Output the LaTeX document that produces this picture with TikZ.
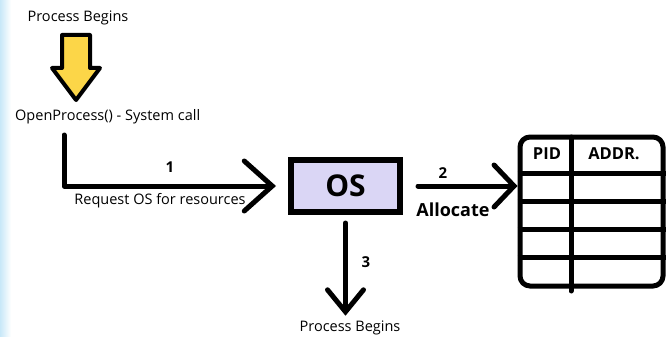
\documentclass[tikz,border=0pt]{standalone}
\usepackage{fontspec}
\setmainfont{Open Sans}
\usetikzlibrary{arrows.meta}
\definecolor{oslav}{RGB}{218,214,245}
\definecolor{pipeyellow}{RGB}{252,214,72}
\definecolor{edgeblue}{RGB}{200,232,248}
\tikzset{
  plain/.style={font=\fontsize{14.5}{16}\selectfont, inner sep=0pt},
  tag/.style={font=\bfseries\fontsize{16.5}{18}\selectfont, inner sep=0pt},
  num/.style={font=\bfseries\fontsize{15}{17}\selectfont, inner sep=0pt},
  flow/.style={line width=5pt, line cap=round, line join=round},
  osbox/.style={draw, line width=6pt, fill=oslav, minimum width=109pt, minimum height=52pt,
    inner sep=0pt, font=\bfseries\fontsize{30}{32}\selectfont},
  tablebox/.style={draw, line width=5pt, rounded corners=10pt, minimum width=143pt,
    minimum height=149pt, inner sep=0pt},
  grid/.style={line width=5pt}
}
\begin{document}
\begin{tikzpicture}[x=1pt, y=-1pt]
\useasboundingbox (0,0) rectangle (667,337);
% soft blue strip along the left edge
\shade[left color=edgeblue, right color=white, draw=none] (0,0) rectangle (11,337);

% labels on the left
\node[plain] (start) at (78,18) {Process Begins};
\node[plain, anchor=west] (open) at (15,117) {OpenProcess() - System call};

% yellow block arrow between the two labels
\draw[line width=4pt, line join=round, fill=pipeyellow]
  (62,35) -- (90,35) -- (90,68) -- (100,68) -- (76,100) -- (52,68) -- (62,68) -- cycle;

% OS box and process table
\node[osbox] (os) at (345.5,186) {OS};
\node[tablebox] (tbl) at (591.5,211.5) {};
\coordinate (call) at (64,135);

% process table grid
\foreach \y in {173,201,229,257}
  \draw[grid] (tbl.west |- 0,\y) -- (tbl.east |- 0,\y);
\draw[grid, line cap=round] (571,137) -- (571,291);
\node[tag] (pid) at (547,154) {PID};
\node[tag] (addr) at (614,154) {ADDR.};

% 1: request
\draw[flow, -{Straight Barb[length=28pt, width=50pt, line cap=round]}]
  (call) |- ([xshift=-12pt]os.west);
\node[num] (n1) at (170,167) {1};
\node[plain] (req) at (160,201) {Request OS for resources};

% 2: allocate
\coordinate (os2) at ([xshift=15pt]os.east);
\draw[flow, -{Straight Barb[length=20pt, width=42pt, line cap=round]}]
  (os2) -- (tbl.west |- os2);
\node[num] (n2) at (443,173) {2};
\node[tag, font=\bfseries\fontsize{18}{20}\selectfont] (alloc) at (453,210) {Allocate};

% 3: process begins
\node[plain] (begin) at (350,328) {Process Begins};
\draw[flow, -{Straight Barb[length=22pt, width=36pt, line cap=round]}]
  ([yshift=-8pt]os.south) -- ([yshift=5pt]os.south |- begin.north);
\node[num] (n3) at (366,262) {3};
\end{tikzpicture}
\end{document}
